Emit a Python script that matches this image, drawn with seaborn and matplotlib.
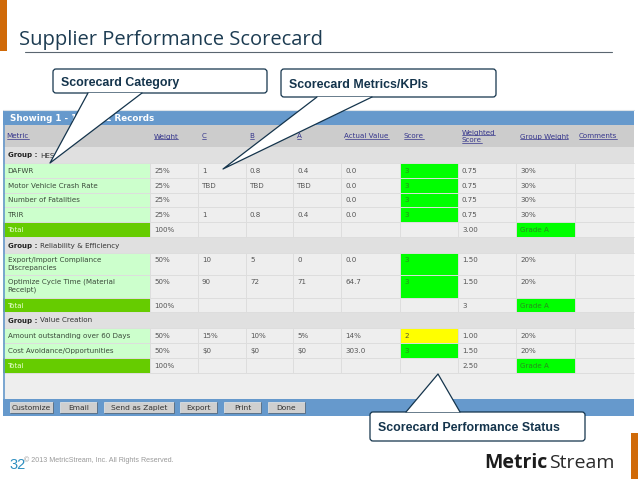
import numpy as np
import matplotlib
matplotlib.use('Agg')
import matplotlib.pyplot as plt
from matplotlib.colors import ListedColormap
from matplotlib.patches import FancyBboxPatch, Polygon, Rectangle
import seaborn as sns

# Table content
headers = [['Metric'], ['Weight'], ['C'], ['B'], ['A'], ['Actual Value'], ['Score'],
           ['Weighted', 'Score'], ['Group Weight'], ['Comments']]
group_names = ['HES', 'Reliability & Efficiency', 'Value Creation']
metrics = ['DAFWR', 'Motor Vehicle Crash Rate', 'Number of Fatalities', 'TRIR', 'Total',
           'Export/Import Compliance\nDiscrepancies', 'Optimize Cycle Time (Material\nReceipt)', 'Total',
           'Amount outstanding over 60 Days', 'Cost Avoidance/Opportunities', 'Total']
weights = ['25%', '25%', '25%', '25%', '100%', '50%', '50%', '100%', '50%', '50%', '100%']
col_c = ['1', 'TBD', '', '1', '', '10', '90', '', '15%', '$0', '']
col_b = ['0.8', 'TBD', '', '0.8', '', '5', '72', '', '10%', '$0', '']
col_a = ['0.4', 'TBD', '', '0.4', '', '0', '71', '', '5%', '$0', '']
actual = ['0.0', '0.0', '0.0', '0.0', '', '0.0', '64.7', '', '14%', '303.0', '']
scores = ['3', '3', '3', '3', '', '3', '3', '', '2', '3', '']
weighted = ['0.75', '0.75', '0.75', '0.75', '3.00', '1.50', '1.50', '3', '1.00', '1.50', '2.50']
group_weight = ['30%', '30%', '30%', '30%', 'Grade A', '20%', '20%', 'Grade A', '20%', '20%', 'Grade A']
buttons = ['Customize', 'Email', 'Send as Zaplet', 'Export', 'Print', 'Done']

# Layout in slide pixels
col_edges = [3, 150, 198, 246, 293, 341, 400, 458, 516, 575, 634]
row_edges = [110, 125, 147, 163, 178, 193, 207, 222, 237, 253, 275, 298, 312, 328, 343, 358, 373, 399, 416]
group_rows = [2, 8, 12]
button_edges = [(10, 53), (60, 97), (104, 174), (180, 217), (224, 261), (268, 305)]

BLUE, HEAD, GROUP, CELL, LIGHT, DARK, GREEN, YELLOW = range(8)
cell_colors = ['#6699cc', '#cccccc', '#e0e0e0', '#eeeeee', '#ccffcc', '#66cc00', '#00ff00', '#ffff00']
navy = '#14344c'
table_font = 5.1

sns.set_theme(style='white')
plt.rcParams['font.family'] = ['DejaVu Sans']

n_rows = len(row_edges) - 1
n_cols = len(col_edges) - 1
data_rows = [r for r in range(3, 16) if r not in group_rows]

# cell colour codes, one row per table row
codes = np.full((n_rows, n_cols), CELL)
codes[0] = BLUE
codes[1] = HEAD
codes[17] = BLUE
for r in group_rows:
    codes[r] = GROUP
for i, r in enumerate(data_rows):
    codes[r, 0] = DARK if metrics[i] == 'Total' else LIGHT
    if scores[i]:
        codes[r, 6] = GREEN if scores[i] == '3' else YELLOW
    if group_weight[i] == 'Grade A':
        codes[r, 8] = GREEN

# one heatmap cell per pixel so that columns and rows keep their own sizes
pixels = np.repeat(np.repeat(codes, np.diff(row_edges), axis=0), np.diff(col_edges), axis=1)

W, H = 638, 479
fig = plt.figure(figsize=(W / 100, H / 100), dpi=100, facecolor='white')
table_ax = fig.add_axes([col_edges[0] / W, 1 - row_edges[-1] / H,
                         (col_edges[-1] - col_edges[0]) / W, (row_edges[-1] - row_edges[0]) / H])
sns.heatmap(pixels, ax=table_ax, cmap=ListedColormap(cell_colors), vmin=-0.5, vmax=7.5,
            cbar=False, xticklabels=False, yticklabels=False)

ax = fig.add_axes([0, 0, 1, 1], facecolor='none')
ax.set_xlim(0, W)
ax.set_ylim(H, 0)
ax.axis('off')

# slide furniture
ax.add_patch(Rectangle((0, 0), 6.5, 51, color='#d06a08', lw=0))
ax.add_patch(Rectangle((631, 433), 7, 46, color='#d06a08', lw=0))
ax.plot([25, 612], [51.5, 51.5], color='#5a6670', lw=0.8)
ax.text(19, 45, 'Supplier Performance Scorecard', fontsize=14.5, color='#1d3c52', family='Open Sans')

# table grid
grid = '#dddddd'
ax.hlines(row_edges[3:17], col_edges[0], col_edges[-1], color=grid, lw=0.7)
for x in col_edges[1:-1]:
    for r in data_rows:
        ax.vlines(x, row_edges[r], row_edges[r + 1], color=grid, lw=0.7)
ax.vlines(3.5, 125, 399, color='#6699cc', lw=1.2)
ax.plot([3, 634], [109.5, 109.5], color='#dde3e8', lw=0.8)

ax.text(10, 117.8, 'Showing 1 - 11 of 11 Records', fontsize=6.3, color='white', weight='bold',
        va='center_baseline')

# column headers, underlined like links
renderer = fig.canvas.get_renderer()
for c, lines in enumerate(headers):
    x = col_edges[c] + 3.5
    for k, line in enumerate(lines):
        y = 136 if len(lines) == 1 else 132 + k * 8
        t = ax.text(x, y, line, fontsize=table_font, color='#35358c', va='center_baseline')
        bb = t.get_window_extent(renderer)
        ax.plot([x, x + bb.width], [y + 3.4, y + 3.4], color='#35358c', lw=0.5)

for r, name in zip(group_rows, group_names):
    y = (row_edges[r] + row_edges[r + 1]) / 2
    ax.text(7.5, y, 'Group :', fontsize=5.0, weight='bold', color='#222222', va='center_baseline')
    ax.text(40, y, name, fontsize=table_font, color='#333333', va='center_baseline')

columns = [weights, col_c, col_b, col_a, actual, scores, weighted, group_weight]
for i, r in enumerate(data_rows):
    y = (row_edges[r] + row_edges[r + 1]) / 2
    two_lines = '\n' in metrics[i]
    y_top = row_edges[r] + 7 if two_lines else y
    is_total = metrics[i] == 'Total'
    ax.text(7.5, y_top + (4 if two_lines else 0), metrics[i], fontsize=table_font,
            va='center' if two_lines else 'center_baseline',
            color='#e8ffd0' if is_total else '#3a4a3a', linespacing=1.35)
    for c, col in enumerate(columns, start=1):
        if not col[i]:
            continue
        if codes[r, c] == GREEN:
            color = '#2a8a20'
        elif codes[r, c] == YELLOW:
            color = '#555533'
        else:
            color = '#555555'
        ax.text(col_edges[c] + 4, y_top, col[i], fontsize=table_font, va='center_baseline', color=color)

# buttons
for (x0, x1), label in zip(button_edges, buttons):
    ax.add_patch(Rectangle((x0, 402), x1 - x0, 10.5, facecolor='#cfcfcf', edgecolor='#e8e8e8', lw=0.5))
    ax.plot([x0, x1, x1], [412.5, 412.5, 402], color='#46607a', lw=0.6)
    ax.text((x0 + x1) / 2, 407.4, label, fontsize=5.4, ha='center', va='center_baseline', color='#333333')


def callout(x0, y0, x1, y1, tip, base, label):
    ax.add_patch(FancyBboxPatch((x0 + 3, y0 + 3), x1 - x0 - 6, y1 - y0 - 6, boxstyle='round,pad=3',
                                facecolor='white', edgecolor=navy, lw=0.9, zorder=5))
    base_y = y1 if tip[1] > y1 else y0
    ax.add_patch(Polygon([(base[0], base_y), tip, (base[1], base_y)], closed=True, facecolor='white',
                         edgecolor='none', zorder=6))
    ax.plot([base[0], tip[0], base[1]], [base_y, tip[1], base_y], color=navy, lw=0.9, zorder=7)
    ax.text(x0 + 8, (y0 + y1) / 2, label, fontsize=8.9, weight='bold', color=navy, va='center_baseline',
            family='Liberation Sans', zorder=8)


callout(53, 69, 267, 93, (50, 163), (88, 142), 'Scorecard Category')
callout(281, 69, 496, 97, (223, 169), (317, 372), 'Scorecard Metrics/KPIs')
callout(370, 412, 585, 441, (438, 374), (406, 460), 'Scorecard Performance Status')

# footer
ax.text(9, 469, '32', fontsize=10.5, color='#2f8fc0', family='Liberation Sans')
ax.text(24, 462, '\u00a9 2013 MetricStream, Inc. All Rights Reserved.', fontsize=5.1, color='#9a9a9a',
        family='Liberation Sans')
ax.text(484, 468, 'Metric', fontsize=14, weight='bold', color='#1c1c1c', family='Open Sans')
ax.text(549, 468, 'Stream', fontsize=14, color='#2a2a2a', family='Open Sans')

fig.savefig('out.png', dpi=100)
